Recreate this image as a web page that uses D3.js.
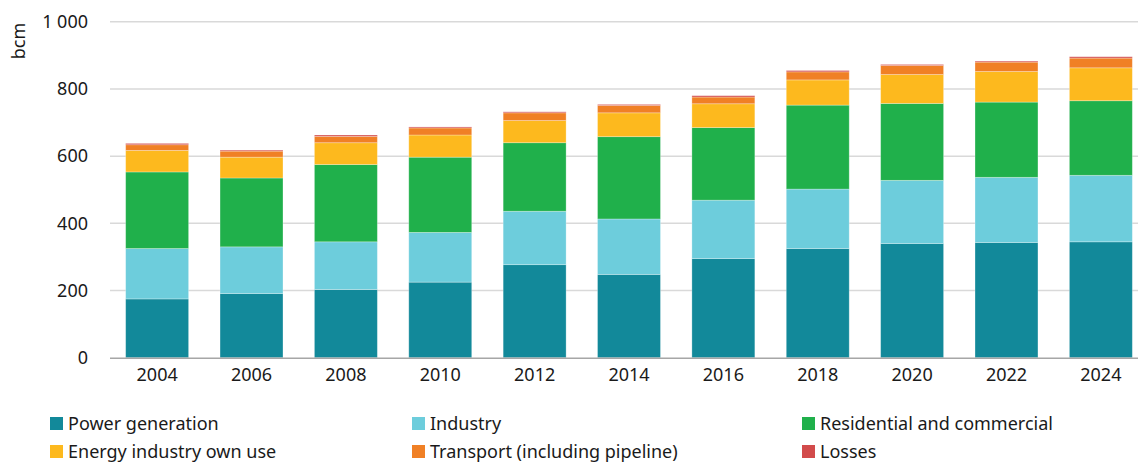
<!DOCTYPE html>
<html>
<head>
<meta charset="utf-8">
<script src="https://cdn.jsdelivr.net/npm/d3@7/dist/d3.min.js"></script>
<style>
  html, body { margin: 0; padding: 0; background: #fff; }
  svg { display: block; font-family: "Noto Sans", "Open Sans", sans-serif; }
</style>
</head>
<body>
<svg id="chart" width="1138" height="462"></svg>
<script>
// Natural gas demand by sector, bcm
const years = ["2004","2006","2008","2010","2012","2014","2016","2018","2020","2022","2024"];
const powerGeneration  = [175, 191, 203, 225, 277, 248, 295, 325, 340, 343, 345];
const industry         = [150, 139, 142, 148, 159, 165, 174, 177, 188, 194, 198];
const residentialComm  = [228, 205, 230, 224, 204, 245, 216, 250, 229, 224, 222];
const energyOwnUse     = [ 64,  62,  65,  66,  66,  71,  71,  75,  86,  91,  98];
const transport        = [ 17,  18,  19,  21,  23,  22,  20,  24,  27,  28,  29];
const losses           = [  4,   3,   4,   3,   3,   3,   4,   4,   3,   3,   4];
const yTicks = [0, 200, 400, 600, 800, 1000];

const seriesNames = ["Power generation", "Industry", "Residential and commercial",
                     "Energy industry own use", "Transport (including pipeline)", "Losses"];
const seriesValues = [powerGeneration, industry, residentialComm, energyOwnUse, transport, losses];
const colors = ["#12899a", "#6dcddc", "#20b04b", "#fdb91e", "#f08025", "#d24b4b"];

const rows = years.map((y, i) => {
  const r = { year: y };
  seriesNames.forEach((n, k) => r[n] = seriesValues[k][i]);
  return r;
});
const stacked = d3.stack().keys(seriesNames)(rows);

const svg = d3.select("#chart");
const W = 1138;

const x = d3.scaleBand().domain(years).range([110, 1148]).paddingInner(0.333).paddingOuter(0.166);
const y = d3.scaleLinear().domain([0, 1000]).range([357.7, 21.8]);

const fmt = v => d3.format(",")(v).replace(/,/g, " ");

// grid lines
svg.append("g").selectAll("line").data(yTicks.filter(t => t > 0)).join("line")
  .attr("x1", 110).attr("x2", W)
  .attr("y1", d => y(d)).attr("y2", d => y(d))
  .attr("stroke", "#d9d9d9").attr("stroke-width", 1.5);

// y axis labels
const yAxis = svg.append("g").attr("transform", "translate(88,0)")
  .call(d3.axisLeft(y).tickValues(yTicks).tickFormat(fmt).tickSize(0).tickPadding(0));
yAxis.select(".domain").remove();
yAxis.selectAll("text").attr("font-size", 18).attr("fill", "#1a1a1a")
  .attr("font-family", "'Noto Sans', sans-serif");

// unit label
svg.append("text").attr("transform", "translate(25,41) rotate(-90)")
  .attr("text-anchor", "middle").attr("font-size", 18).attr("fill", "#1a1a1a").text("bcm");

// stacked bars
svg.append("g").selectAll("g").data(stacked).join("g")
  .attr("fill", (d, i) => colors[i])
  .selectAll("rect").data(d => d).join("rect")
  .attr("x", d => x(d.data.year))
  .attr("width", x.bandwidth())
  .attr("y", d => y(d[1]))
  .attr("height", d => y(d[0]) - y(d[1]))
  .attr("stroke", "rgba(255,255,255,0.35)").attr("stroke-width", 0.8);

// baseline
svg.append("line").attr("x1", 110).attr("x2", W).attr("y1", y(0) + 0.5).attr("y2", y(0) + 0.5)
  .attr("stroke", "#a6a6a6").attr("stroke-width", 1.5);

// x axis labels
const xAxis = svg.append("g").attr("transform", `translate(0,${y(0) + 3})`)
  .call(d3.axisBottom(x).tickSize(0).tickPadding(8));
xAxis.select(".domain").remove();
xAxis.selectAll("text").attr("font-size", 18).attr("fill", "#1a1a1a")
  .attr("font-family", "'Noto Sans', sans-serif");

// legend
const legendCols = [50, 412, 802];
const legendRows = [423.5, 451.5];
const legend = svg.append("g").selectAll("g").data(seriesNames).join("g")
  .attr("transform", (d, i) => `translate(${legendCols[i % 3]},${legendRows[Math.floor(i / 3)]})`);
legend.append("rect").attr("x", 0).attr("y", -6.5).attr("width", 13).attr("height", 13)
  .attr("fill", (d, i) => colors[i]);
legend.append("text").attr("x", 18).attr("dy", "0.35em").attr("font-size", 18)
  .attr("fill", "#1a1a1a").text(d => d);
</script>
</body>
</html>
